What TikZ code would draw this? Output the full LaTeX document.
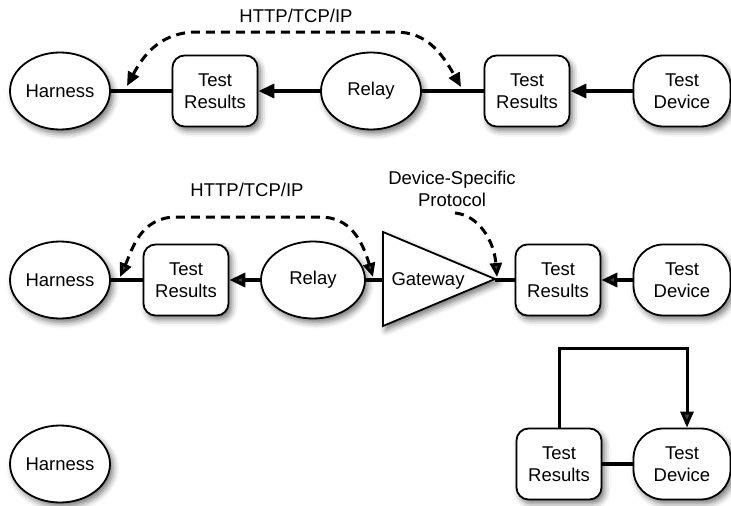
\documentclass[tikz,border=0pt]{standalone}
\usepackage{fontspec}
\setmainfont{Liberation Sans}
\usetikzlibrary{arrows.meta,shadows.blur,shapes.geometric}
\begin{document}
\begin{tikzpicture}[x=1pt,y=-1pt,
  font=\fontsize{18.5}{22}\selectfont,
  shad/.style={blur shadow={shadow xshift=3pt,shadow yshift=-4pt,shadow blur radius=6pt,shadow opacity=55}},
  ell/.style={ellipse,draw,line width=1.8pt,fill=white,minimum width=100pt,minimum height=77pt,inner sep=0pt,shad},
  resbox/.style={rectangle,draw,line width=1.8pt,fill=white,rounded corners=12pt,minimum width=85pt,minimum height=71pt,align=center,inner sep=0pt,shad},
  devbox/.style={rectangle,draw,line width=1.8pt,fill=white,rounded corners=30pt,minimum width=97pt,minimum height=71pt,align=center,inner sep=0pt,shad},
  conn/.style={line width=3.5pt},
  arr/.style={conn,-{Triangle[length=16pt,width=14pt]}},
  proto/.style={line width=3pt,dash pattern=on 9pt off 6pt},
  twotips/.style={{Triangle[length=14pt,width=12pt]}-{Triangle[length=14pt,width=12pt]}},
  onetip/.style={-{Triangle[length=14pt,width=12pt]}},
]
\useasboundingbox (0,0) rectangle (731,506);

% Row 1
\node[ell] (h1) at (60,91) {Harness};
\node[resbox] (r1a) at (215,91) {Test\\Results};
\node[ell] (rl1) at (371,91) {Relay};
\node[resbox] (r1b) at (527,91) {Test\\Results};
\node[devbox] (d1) at (682,91) {Test\\Device};
\draw[conn] (h1) -- (r1a);
\draw[arr] (rl1) -- (r1a);
\draw[conn] (rl1) -- (r1b);
\draw[arr] (d1) -- (r1b);
\coordinate (p1a) at (127,86);
\coordinate (p1b) at (461,87);
\draw[proto,twotips] (p1a) .. controls (142,58) and (158,33) .. (195,32) -- (395,32) .. controls (425,32) and (440,50) .. (p1b);
\node (l1) at (296,16) {HTTP/TCP/IP};

% Row 2
\node[ell] (h2) at (60,280) {Harness};
\node[resbox] (r2a) at (186,280) {Test\\Results};
\node[ell,minimum width=104pt] (rl2) at (313,280) {Relay};
\draw[line width=1.8pt,fill=white,shad] (383,232) -- (495,279) -- (383,326) -- cycle;
\node (gw) at (428,281) {Gateway};
\coordinate (gwL) at (383,280);
\coordinate (gwR) at (495,280);
\node[resbox] (r2b) at (558,280) {Test\\Results};
\node[devbox] (d2) at (682,280) {Test\\Device};
\draw[conn] (h2) -- (r2a);
\draw[arr] (rl2) -- (r2a);
\draw[conn] (rl2) -- (gwL);
\draw[conn] (gwR) -- (r2b);
\draw[arr] (d2) -- (r2b);
\coordinate (p2a) at (120,277);
\coordinate (p2b) at (373,277);
\draw[proto,twotips] (p2a) .. controls (132,250) and (140,218) .. (175,217) -- (320,217) .. controls (350,217) and (362,240) .. (p2b);
\coordinate (p3a) at (455,213);
\coordinate (p3b) at (497,277);
\draw[proto,onetip] (p3a) .. controls (478,215) and (494,240) .. (p3b);
\node (l2) at (247,190) {HTTP/TCP/IP};
\node[align=center] (l3) at (452,189) {Device-Specific\\Protocol};

% Row 3
\node[ell] (h3) at (60,464) {Harness};
\node[resbox] (r3) at (559,464) {Test\\Results};
\node[devbox] (d3) at (682,464) {Test\\Device};
\draw[conn] (r3) -- (d3);
\coordinate (lt) at (620,348);
\coordinate (dn) at ([xshift=5pt]d3.north);
\draw[line width=3pt,-{Triangle[length=16pt,width=13pt]}] (r3.north) |- (lt) -| (dn);
\end{tikzpicture}
\end{document}
